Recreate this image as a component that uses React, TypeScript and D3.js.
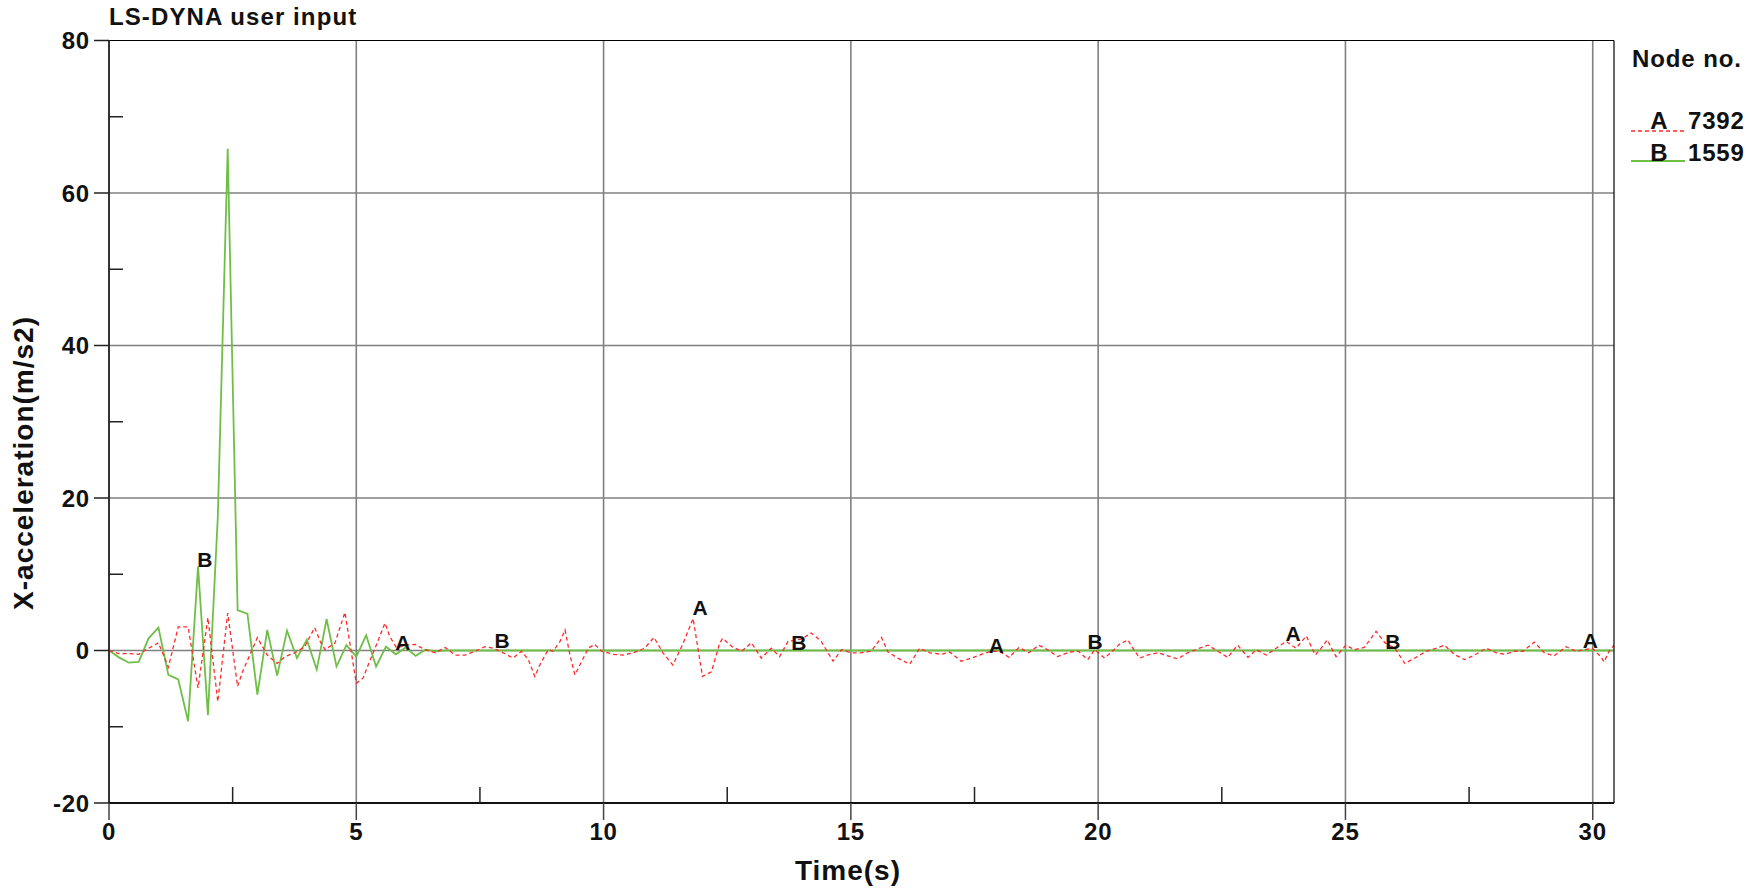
import React from 'react';
import * as d3 from 'd3';

// Node 7392 (curve A, red dashed)
const timeA = [0, 0.2, 0.4, 0.6, 0.8, 1.0, 1.2, 1.4, 1.6, 1.8, 2.0, 2.2, 2.4, 2.6, 2.7, 2.82, 3.0, 3.2, 3.4, 3.56, 3.76, 3.96, 4.06, 4.16, 4.27, 4.37, 4.57, 4.77, 5.0, 5.14, 5.24, 5.38, 5.58, 5.68, 5.82, 5.98, 6.19, 6.39, 6.6, 6.8, 7.0, 7.2, 7.4, 7.6, 7.77, 7.97, 8.17, 8.34, 8.48, 8.61, 8.71, 8.88, 8.98, 9.12, 9.22, 9.32, 9.42, 9.56, 9.69, 9.82, 9.96, 10.2, 10.4, 10.6, 10.83, 11.02, 11.2, 11.4, 11.6, 11.81, 12.0, 12.18, 12.35, 12.41, 12.6, 12.79, 12.99, 13.19, 13.39, 13.56, 13.73, 14.0, 14.2, 14.4, 14.64, 14.81, 15.0, 15.2, 15.41, 15.62, 15.75, 15.95, 16.19, 16.39, 16.6, 16.83, 17.0, 17.23, 17.44, 17.64, 17.84, 18.0, 18.2, 18.4, 18.6, 18.8, 18.98, 19.18, 19.42, 19.6, 19.79, 19.93, 20.13, 20.3, 20.43, 20.6, 20.7, 20.84, 21.0, 21.21, 21.41, 21.61, 21.81, 22.05, 22.22, 22.42, 22.62, 22.82, 23.03, 23.2, 23.4, 23.6, 23.8, 24.0, 24.21, 24.39, 24.51, 24.63, 24.81, 25.01, 25.18, 25.38, 25.62, 25.8, 26.0, 26.2, 26.43, 26.63, 26.84, 27.0, 27.2, 27.41, 27.61, 27.85, 28.05, 28.22, 28.42, 28.59, 28.82, 29.02, 29.22, 29.46, 29.66, 29.83, 29.99, 30.16, 30.23, 30.33, 30.43];
const accA = [0, -0.4, -0.4, -0.5, 0.3, 1.0, -2.2, 3.1, 3.1, -4.9, 4.3, -6.7, 4.9, -4.7, -2.8, -1.0, 1.7, -0.6, -1.7, -0.8, -0.3, 0.5, 1.8, 3.0, 1.2, 0.1, 1.0, 5.0, -4.3, -3.6, -1.9, 0.3, 3.6, 1.8, 0.3, 0.7, 0.8, 0.1, -0.3, 0.4, -0.6, -0.6, -0.1, 0.5, 0.3, -0.3, -1.0, -0.1, -1.2, -3.4, -1.9, 0.1, -0.1, 1.2, 2.7, -0.6, -3.2, -1.4, 0.3, 0.8, -0.1, -0.5, -0.6, -0.3, 0.3, 1.7, -0.3, -1.9, 0.8, 4.2, -3.4, -2.8, 1.0, 1.6, 0.5, -0.1, 1.0, -1.0, 0.3, -0.8, 1.2, 1.5, 2.3, 1.2, -1.4, 0.1, -0.3, -0.3, -0.1, 1.7, -0.2, -1.0, -1.8, 0.3, -0.3, -0.5, -0.2, -1.4, -1.0, -0.5, -0.1, -0.1, -0.9, 0.4, -0.3, 0.7, 0.1, -0.8, -0.2, -0.1, -1.2, 0.1, -1.0, 0.0, 0.8, 1.4, 0.3, -1.0, -0.6, -0.3, -0.7, -1.1, -0.3, 0.3, 0.7, -0.1, -0.9, 0.7, -0.9, 0.1, -0.6, 0.3, 1.2, 0.3, 1.9, -0.6, 0.3, 1.4, -0.8, 0.7, 0.1, 0.4, 2.5, 1.0, 0.3, -1.7, -0.9, -0.1, 0.3, 0.7, -0.5, -1.2, -0.6, 0.3, -0.3, -0.5, -0.1, -0.1, 1.1, -0.3, -0.7, 0.5, -0.1, 0.1, 0.3, -0.8, -1.5, -0.1, 0.7];

// Node 1559 (curve B, green solid)
const timeB = [0, 0.2, 0.4, 0.6, 0.8, 1.0, 1.2, 1.4, 1.6, 1.8, 2.0, 2.2, 2.4, 2.6, 2.8, 3.0, 3.2, 3.4, 3.6, 3.8, 4.0, 4.2, 4.4, 4.6, 4.8, 5.0, 5.2, 5.4, 5.6, 5.8, 6.0, 6.2, 6.4, 6.6, 6.8, 10, 15, 20, 25, 30.43];
const accB = [0, -0.9, -1.6, -1.5, 1.6, 3.0, -3.2, -3.8, -9.3, 11.0, -8.5, 17.5, 65.8, 5.3, 4.8, -5.8, 2.7, -3.3, 2.6, -1.0, 1.4, -2.5, 4.1, -2.1, 0.7, -0.8, 2.0, -2.1, 0.5, -0.5, 0.4, -0.7, 0.1, -0.1, 0, 0, 0, 0, 0, 0];

const xTicks = [0, 5, 10, 15, 20, 25, 30];
const xMinorTicks = [2.5, 7.5, 12.5, 17.5, 22.5, 27.5];
const yTicks = [-20, 0, 20, 40, 60, 80];
const yMinorTicks = [-10, 10, 30, 50, 70];
const xGrid = [5, 10, 15, 20, 25, 30];
const yGrid = [0, 20, 40, 60];

const labelTimesA = [5.94, 11.95, 17.94, 23.94, 29.95];
const labelValuesA = [0.1, 4.6, -0.35, 1.25, 0.3];
const labelTimesB = [1.94, 7.95, 13.95, 19.94, 25.96];
const labelValuesB = [11, 0.3, 0.1, 0.2, 0.2];

const legendKeys = ['A', 'B'];
const legendNodes = ['7392', '1559'];

const title = 'LS-DYNA user input';
const xTitle = 'Time(s)';
const yTitle = 'X-acceleration(m/s2)';
const legendTitle = 'Node no.';

const RED = '#ff2a2a';
const GREEN = '#6fbf47';
const FONT = '"Liberation Sans", Arial, sans-serif';

export default function App() {
  const W = 1750, H = 896;
  const left = 109, right = 1614, top = 40.5, bottom = 803;
  const x = d3.scaleLinear().domain([0, 30.43]).range([left, right]);
  const y = d3.scaleLinear().domain([-20, 80]).range([bottom, top]);

  const line = d3.line<[number, number]>().x(d => x(d[0])).y(d => y(d[1]));
  const pathA = line(timeA.map((t, i) => [t, accA[i]] as [number, number])) || '';
  const pathB = line(timeB.map((t, i) => [t, accB[i]] as [number, number])) || '';

  const txt = { fontFamily: FONT, fontWeight: 700 as const, fill: '#111' };

  return (
    <svg width={W} height={H} style={{ position: 'absolute', left: 0, top: 0, background: '#fff' }}>
      <defs>
        <clipPath id="plotClip">
          <rect x={left} y={top} width={right - left} height={bottom - top} />
        </clipPath>
      </defs>
      <rect x={0} y={0} width={W} height={H} fill="#fff" />

      {/* grid */}
      {xGrid.map(v => (
        <line key={'gx' + v} x1={x(v)} x2={x(v)} y1={top} y2={bottom} stroke="#808080" strokeWidth={1.6} />
      ))}
      {yGrid.map(v => (
        <line key={'gy' + v} x1={left} x2={right} y1={y(v)} y2={y(v)} stroke="#808080" strokeWidth={1.6} />
      ))}

      {/* curves */}
      <g clipPath="url(#plotClip)">
        <path d={pathB} fill="none" stroke={GREEN} strokeWidth={1.8} strokeLinejoin="miter" />
        <path d={pathA} fill="none" stroke={RED} strokeWidth={1.3} strokeDasharray="4,3" />
      </g>

      {/* frame */}
      <line x1={left} x2={right} y1={top} y2={top} stroke="#000" strokeWidth={1.2} />
      <line x1={right} x2={right} y1={top} y2={bottom} stroke="#000" strokeWidth={1.2} />
      <line x1={left} x2={left} y1={top} y2={bottom} stroke="#333" strokeWidth={2} />
      <line x1={left} x2={right} y1={bottom} y2={bottom} stroke="#111" strokeWidth={2} />

      {/* y ticks */}
      {yTicks.map(v => (
        <g key={'yt' + v}>
          <line x1={left - 15} x2={left} y1={y(v)} y2={y(v)} stroke="#222" strokeWidth={1.5} />
          <text x={left - 19} y={y(v) + 8.5} textAnchor="end" fontSize={24} letterSpacing={0.8} {...txt}>{v}</text>
        </g>
      ))}
      {yMinorTicks.map(v => (
        <line key={'ym' + v} x1={left} x2={left + 14} y1={y(v)} y2={y(v)} stroke="#222" strokeWidth={1.5} />
      ))}

      {/* x ticks */}
      {xTicks.map(v => (
        <g key={'xt' + v}>
          <line x1={x(v)} x2={x(v)} y1={bottom} y2={bottom + 17} stroke="#444" strokeWidth={1.5} />
          <text x={x(v)} y={840} textAnchor="middle" fontSize={24} letterSpacing={0.8} {...txt}>{v}</text>
        </g>
      ))}
      {xMinorTicks.map(v => (
        <line key={'xm' + v} x1={x(v)} x2={x(v)} y1={bottom - 16} y2={bottom} stroke="#222" strokeWidth={1.5} />
      ))}

      {/* curve labels */}
      {labelTimesA.map((t, i) => (
        <text key={'la' + i} x={x(t)} y={y(labelValuesA[i])} textAnchor="middle" fontSize={21} {...txt}>A</text>
      ))}
      {labelTimesB.map((t, i) => (
        <text key={'lb' + i} x={x(t)} y={y(labelValuesB[i])} textAnchor="middle" fontSize={21} {...txt}>B</text>
      ))}

      {/* titles */}
      <text x={109} y={25} fontSize={24} letterSpacing={1.1} {...txt}>{title}</text>
      <text x={848} y={880} textAnchor="middle" fontSize={28} letterSpacing={1} {...txt}>{xTitle}</text>
      <text transform={`translate(33, 463) rotate(-90)`} textAnchor="middle" fontSize={28} letterSpacing={1} {...txt}>{yTitle}</text>

      {/* legend */}
      <text x={1632} y={67} fontSize={24} letterSpacing={0.9} {...txt}>{legendTitle}</text>
      {legendKeys.map((k, i) => (
        <g key={'lg' + k}>
          <line x1={1631} x2={1685} y1={131 + i * 30} y2={131 + i * 30} stroke={i === 0 ? RED : GREEN}
            strokeWidth={i === 0 ? 1.3 : 1.8} strokeDasharray={i === 0 ? '4,3' : undefined} />
          <text x={1659} y={129 + i * 32} textAnchor="middle" fontSize={24} {...txt}>{k}</text>
          <text x={1688} y={129 + i * 32} fontSize={24} letterSpacing={0.8} {...txt}>{legendNodes[i]}</text>
        </g>
      ))}
    </svg>
  );
}
